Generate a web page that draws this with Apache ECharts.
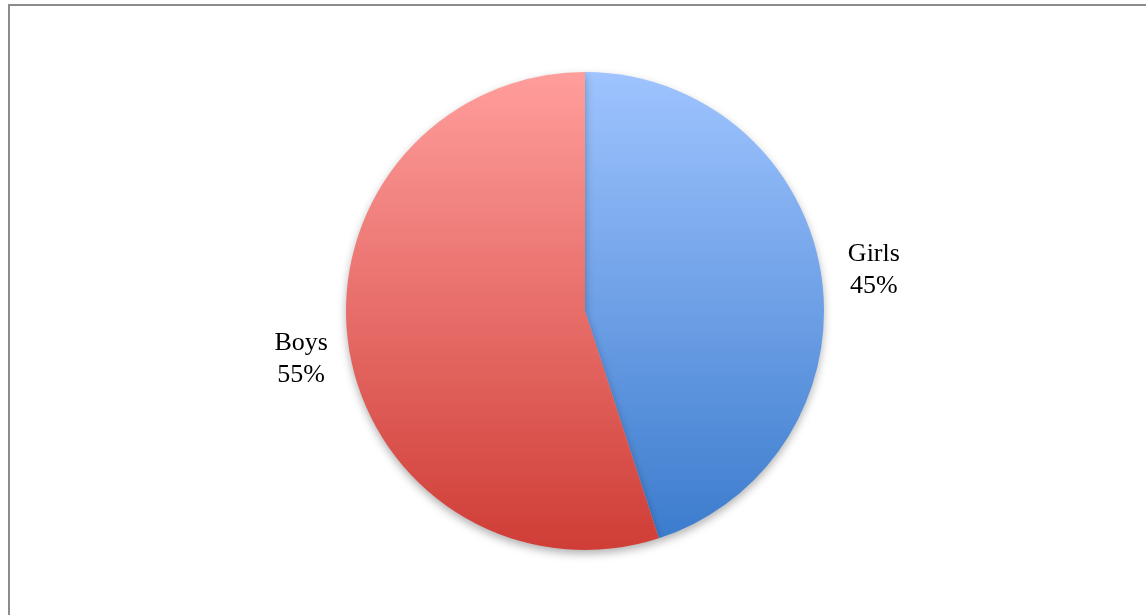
<!DOCTYPE html>
<html>
<head>
<meta charset="utf-8">
<script src="https://cdn.jsdelivr.net/npm/echarts@6/dist/echarts.min.js"></script>
<style>
html,body{margin:0;padding:0;background:#fff;}
#chart{width:1146px;height:615px;}
</style>
</head>
<body>
<div id="chart"></div>
<script>
const categories = ['Girls', 'Boys'];
const values = [45, 55];

// styling
const topColors = ['#9fc4ff', '#ff9e9c'];
const bottomColors = ['#3c7ccd', '#cf3d36'];
const labelNudge = [[3, -1], [2, 8]];

const chart = echarts.init(document.getElementById('chart'));
const data = categories.map((name, i) => ({
  name: name,
  value: values[i],
  label: {offset: labelNudge[i]},
  itemStyle: {
    color: {
      type: 'linear', x: 0, y: 0, x2: 0, y2: 1,
      colorStops: [{offset: 0, color: topColors[i]}, {offset: 1, color: bottomColors[i]}]
    }
  }
}));

const txt = {
  fontFamily: 'Liberation Serif, DejaVu Serif, serif',
  fontSize: 26,
  lineHeight: 32,
  color: '#000',
  width: 58,
  align: 'center'
};

chart.setOption({
  animation: false,
  backgroundColor: '#ffffff',
  graphic: [{
    type: 'polyline',
    shape: {points: [[9, 615], [9, 5], [1146, 5]]},
    style: {stroke: '#8c8c8c', lineWidth: 2, fill: null}
  }],
  series: [{
    type: 'pie',
    center: [585, 311],
    radius: [0, 239],
    startAngle: 90,
    clockwise: true,
    avoidLabelOverlap: false,
    data: data,
    itemStyle: {
      shadowBlur: 8,
      shadowOffsetY: 4,
      shadowColor: 'rgba(0,0,0,0.3)'
    },
    label: {
      show: true,
      position: 'outside',
      formatter: '{t|{b}}\n{t|{d}%}',
      rich: {t: txt}
    },
    labelLine: {show: false, length: 16, length2: 0}
  }]
});
</script>
</body>
</html>
